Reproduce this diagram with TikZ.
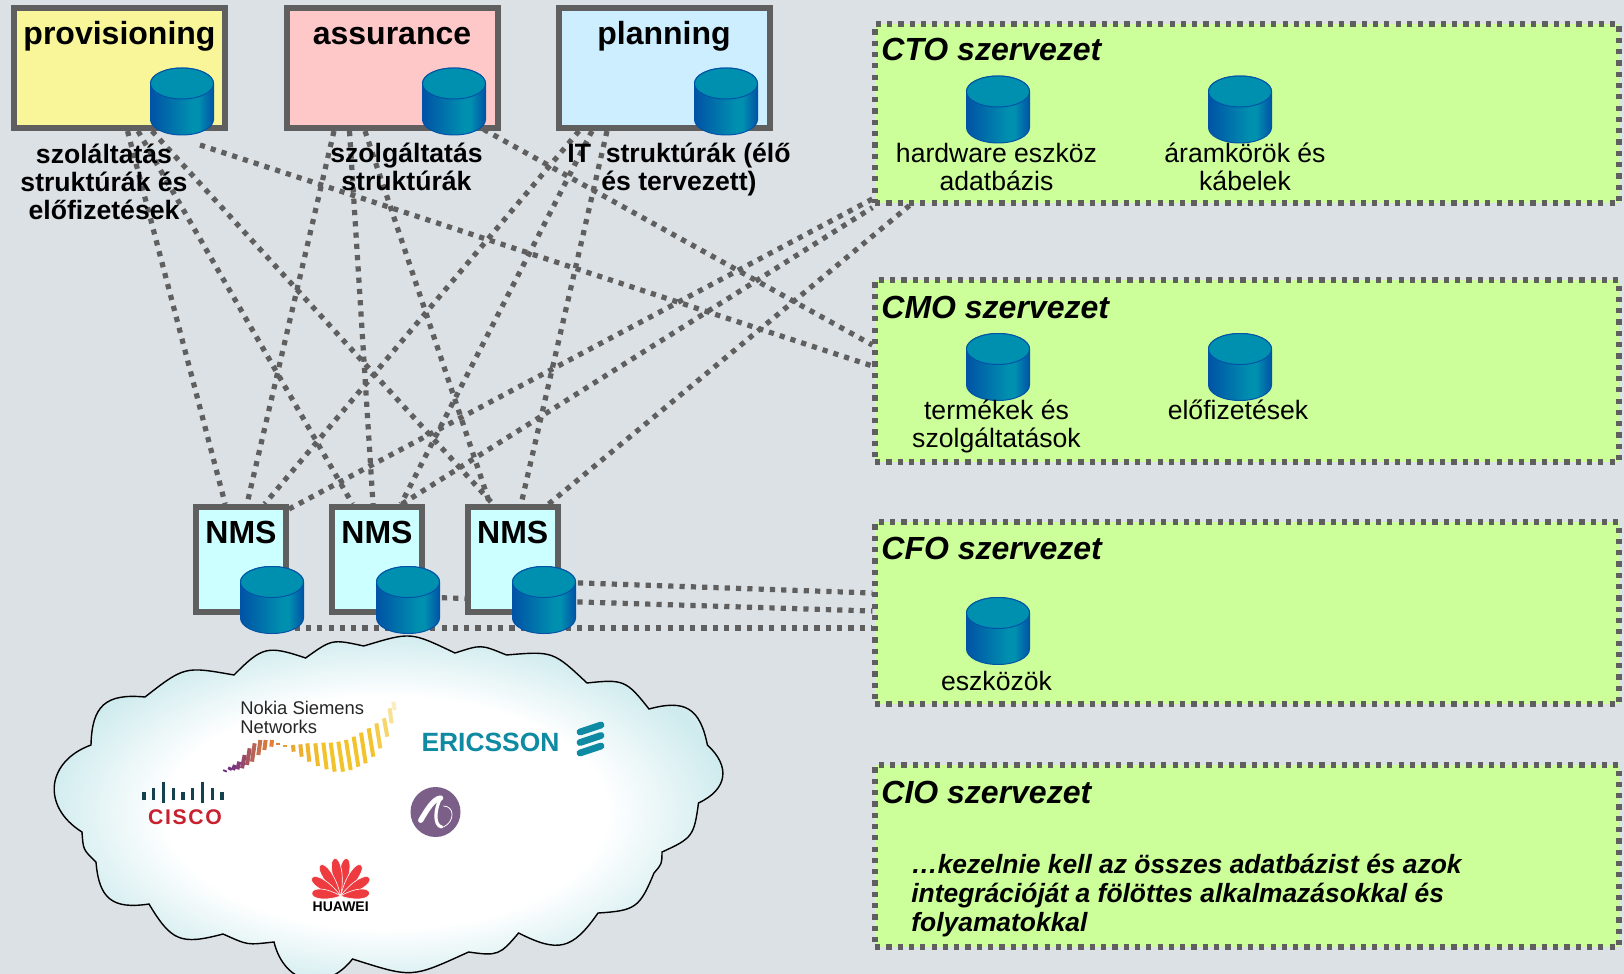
\documentclass[tikz,border=0pt]{standalone}
\usepackage{fontspec}
\setmainfont{Liberation Sans}
\usetikzlibrary{backgrounds}

\definecolor{bggray}{HTML}{DCE1E5}
\definecolor{framegray}{HTML}{5F5F5F}
\definecolor{provfill}{HTML}{F8F698}
\definecolor{assufill}{HTML}{FFC8C8}
\definecolor{planfill}{HTML}{CCEEFF}
\definecolor{nmsfill}{HTML}{CCFFFF}
\definecolor{orgfill}{HTML}{CCFF99}
\definecolor{dbtop}{HTML}{0090AF}
\definecolor{dbedge}{HTML}{0053A6}
\definecolor{cloudrim}{HTML}{CFEBEE}
\definecolor{ericteal}{HTML}{0E8AA2}
\definecolor{ciscobar}{HTML}{14414E}
\definecolor{ciscored}{HTML}{C8202F}
\definecolor{alupurple}{HTML}{7B5F88}
\definecolor{huaweired}{HTML}{EE3B3F}
\definecolor{nokiapurple}{HTML}{6E2C86}
\definecolor{nokiaorange}{HTML}{E0803A}
\definecolor{nokiayellow}{HTML}{F2C32A}

\pgfdeclarehorizontalshading{dbbody}{100bp}{color(0bp)=(dbedge); color(25bp)=(dbedge); color(58bp)=(dbtop); color(63bp)=(dbtop); color(75bp)=(dbedge); color(100bp)=(dbedge)}
\pgfdeclareradialshading{cloudglow}{\pgfpointorigin}{color(0bp)=(white); color(16bp)=(white); color(25bp)=(cloudrim); color(50bp)=(cloudrim)}

\begin{document}
\begin{tikzpicture}[
        x=0.5pt,
        y=-0.5pt,
        sysbox/.style={
            draw=framegray,
            line width=3pt,
            rectangle,
            inner sep=0pt,
            minimum width=105.5pt,
            minimum height=60pt
        },
        nmsbox/.style={
            sysbox,
            fill=nmsfill,
            minimum width=45pt,
            minimum height=52.5pt
        },
        orgbox/.style={
            draw=framegray,
            fill=orgfill,
            rectangle,
            inner sep=0pt,
            minimum width=372pt,
            minimum height=91pt,
            line width=2.6pt,
            dash pattern=on 2.6pt off 3.05pt
        },
        link/.style={
            draw=framegray,
            line width=2.6pt,
            dash pattern=on 2.6pt off 3.05pt
        },
        boxtitle/.style={
            anchor=base,
            inner sep=0pt,
            font=\fontsize{16}{18}\selectfont\bfseries
        },
        orgtitle/.style={
            anchor=west,
            inner sep=0pt,
            font=\fontsize{16}{18}\selectfont\bfseries\itshape
        },
        boldnote/.style={
            align=center,
            inner sep=0pt,
            font=\fontsize{13.3}{14}\selectfont\bfseries
        },
        plainnote/.style={
            align=center,
            inner sep=0pt,
            font=\fontsize{13.3}{14}\selectfont
        },
        dbcyl/.pic={
            \path[shading=dbbody,draw=dbedge,line width=0.5pt] (-31.5,-18) -- (-31.5,18)
                arc[start angle=180,end angle=0,x radius=31.5,y radius=15.5] -- (31.5,-18)
                arc[start angle=0,end angle=-180,x radius=31.5,y radius=15.5] -- cycle;
            \draw[fill=dbtop,draw=dbedge,line width=0.5pt] (0,-18) ellipse (31.5 and 15.5);
            \coordinate (-c) at (0,0);
        }
    ]
        \useasboundingbox (0,0) rectangle (1624,974);

        % System boxes
        \node[sysbox,fill=provfill] (prov) at (119.5,68) {};
        \node[sysbox,fill=assufill] (assu) at (392,68) {};
        \node[sysbox,fill=planfill] (plan) at (664,68) {};
        \node[boxtitle] (provtitle) at (119.5,45) {provisioning};
        \node[boxtitle] (assutitle) at (392,45) {assurance};
        \node[boxtitle] (plantitle) at (664,45) {planning};
        \pic (provdb) at (182,101.5) {dbcyl};
        \pic (assudb) at (454,101.5) {dbcyl};
        \pic (plandb) at (726,101.5) {dbcyl};

        % NMS boxes
        \node[nmsbox] (nmsa) at (241,559.5) {};
        \node[nmsbox] (nmsb) at (377,559.5) {};
        \node[nmsbox] (nmsc) at (512.7,559.5) {};
        \node[boxtitle] (nmsatitle) at (241,543) {NMS};
        \node[boxtitle] (nmsbtitle) at (377,543) {NMS};
        \node[boxtitle] (nmsctitle) at (512.7,543) {NMS};
        \pic (nmsadb) at (272,600) {dbcyl};
        \pic (nmsbdb) at (408,600) {dbcyl};
        \pic (nmscdb) at (544,600) {dbcyl};

        % Organisation boxes
        \node[orgbox,minimum height=89.5pt] (cto) at (1247,113.5) {};
        \node[orgbox] (cmo) at (1247,371) {};
        \node[orgbox] (cfo) at (1247,613) {};
        \node[orgbox] (cio) at (1247,856) {};
        \node[orgtitle] (ctotitle) at (881,49) {CTO szervezet};
        \node[orgtitle] (cmotitle) at (881,307.5) {CMO szervezet};
        \node[orgtitle] (cfotitle) at (881,548) {CFO szervezet};
        \node[orgtitle] (ciotitle) at (881,792) {CIO szervezet};
        \pic (ctodba) at (998,109.5) {dbcyl};
        \pic (ctodbb) at (1240,109.5) {dbcyl};
        \pic (cmodba) at (998,367) {dbcyl};
        \pic (cmodbb) at (1240,367) {dbcyl};
        \pic (cfodba) at (998,631) {dbcyl};

        % Dotted links behind everything
        \begin{scope}[on background layer]
            \fill[bggray] (0,0) rectangle (1624,974);
            \draw[link] ([xshift=4pt]prov.south) -- ([xshift=-7.9pt]nmsa.north);
            \draw[link] ([xshift=9.25pt]prov.south) -- ([xshift=-12.25pt]nmsb.north);
            \draw[link] ([xshift=16.25pt]prov.south) -- ([xshift=-9.9pt]nmsc.north);
            \draw[link] ([xshift=-29pt]assu.south) -- ([xshift=3pt]nmsa.north);
            \draw[link] ([xshift=-21.25pt]assu.south) -- ([xshift=-2pt]nmsb.north);
            \draw[link] ([xshift=-13.5pt]assu.south) -- ([xshift=-11.4pt]nmsc.north);
            \draw[link] ([xshift=-42.5pt]plan.south) -- ([xshift=11.8pt]nmsa.north);
            \draw[link] ([xshift=-36pt]plan.south) -- ([xshift=12pt]nmsb.north);
            \draw[link] ([xshift=-28.5pt]plan.south) -- ([xshift=4.2pt]nmsc.north);
            \draw[link] ([xshift=9pt,yshift=-21.75pt]provdb-c) -- ([yshift=2.5pt]cmo.west);
            \draw[link] ([yshift=-5.75pt]assudb-c) -- ([yshift=13pt]cmo.west);
            \draw[link] ([yshift=-2.5pt]nmsa.north east) -- ([yshift=-42.75pt]cto.west);
            \draw[link] ([xshift=12.5pt]nmsb.north) -- ([yshift=-1pt]cto.south west);
            \draw[link] ([xshift=18pt]nmsc.north) -- ([xshift=18.5pt]cto.south west);
            \draw[link] ([yshift=9.15pt]nmscdb-c) -- ([yshift=10pt]cfo.west);
            \draw[link] ([yshift=1.65pt]nmsbdb-c) -- ([yshift=1pt]cfo.west);
            \draw[link] ([yshift=-14pt]nmsadb-c) -- ([yshift=-7.5pt]cfo.west);
        \end{scope}

        % Labels under the boxes
        \node[boldnote] (provnote) at (104,181.5) {szoláltatás\\struktúrák és\\előfizetések};
        \node[boldnote] (assunote) at (406.5,167) {szolgáltatás\\struktúrák};
        \node[boldnote] (plannote) at (679,169.5) {IT\ \ struktúrák (élő\\és tervezett)};
        \node[plainnote] (ctonotea) at (996.5,167) {hardware eszköz\\adatbázis};
        \node[plainnote] (ctonoteb) at (1245,167) {áramkörök és\\kábelek};
        \node[plainnote] (cmonotea) at (996.5,426.5) {termékek és\\szolgáltatások};
        \node[plainnote] (cmonoteb) at (1238,410) {előfizetések};
        \node[plainnote] (cfonote) at (996.5,681) {eszközök};
        \node[align=left,anchor=west,inner sep=0pt,font=\fontsize{13.2}{14.5}\selectfont\bfseries\itshape] (cionote) at (911,896)
            {…kezelnie kell az összes adatbázist és azok\\integrációját a fölöttes alkalmazásokkal és\\folyamatokkal};

        % Cloud
        \draw[black,line width=0.7pt,shading=cloudglow,looseness=1.4]
            (363.7,646) to[bend left=21] (455,653) to[bend left=20] (506.5,655)
            to[bend left=24] (587,683) to[bend left=29] (649,709) to[bend left=47] (707.4,745)
            to[bend left=56] (698.5,803) to[bend left=29] (662,852) to[bend left=20] (654,873)
            to[bend left=32] (598,913) to[bend left=41] (518.6,933) to[bend left=29] (468.6,952)
            to[bend left=21] (352.5,959) to[bend left=64] (274,942) to[bend left=15] (223,934)
            to[bend left=37] (149,904) to[bend left=47] (96,862) to[bend left=21] (82,832)
            to[bend left=64] (91,745) to[bend left=47] (145,697) to[bend left=24] (234,675)
            to[bend left=32] (305.6,658) to[bend left=24] (363.7,646) -- cycle;

        % Cisco
        \foreach \u/\t/\b in {42/97/120,71/85/120,100/65/130,130/85/120,159/97/120,188/85/120,217/65/130,247/85/120,276/97/120} {
            \draw[ciscobar,line width=1.7pt] (130+\u/3,760+\t/3) -- (130+\u/3,760+\b/3);
        }
        \node[inner sep=0pt,text=ciscored,font=\fontsize{10.6}{12}\selectfont\bfseries\addfontfeature{LetterSpace=8}] (cisco) at (185,817) {CISCO};

        % Nokia Siemens
        \node[anchor=west,align=left,inner sep=0pt,text=black!85,font=\fontsize{9.2}{9.5}\selectfont] (nokia) at (240,717.5) {Nokia Siemens\\Networks};
        \begin{scope}[shift={(220,690)},scale=1/3]
            \foreach \u/\t/\b/\l/\c in {15/240/245/1/nokiapurple,30/232/240/2/nokiapurple,42/225/240/3/nokiaorange!10!nokiapurple,55/215/238/3/nokiaorange!20!nokiapurple,70/195/235/4/nokiaorange!35!nokiapurple,85/175/225/4/nokiaorange!50!nokiapurple,100/160/215/4/nokiaorange!65!nokiapurple,118/150/195/3/nokiaorange!80!nokiapurple,135/150/180/2/nokiaorange!90!nokiapurple,155/150/170/1/nokiaorange,175/158/165/0/nokiaorange,195/165/170/0/nokiayellow!40!nokiaorange,220/165/185/-1/nokiayellow!60!nokiaorange,243/163/200/-2/nokiayellow!70!nokiaorange,265/160/215/-3/nokiayellow!80!nokiaorange,290/160/228/-4/nokiayellow!90!nokiaorange,315/158/238/-5/nokiayellow,338/158/245/-6/nokiayellow,362/155/245/-7/nokiayellow,385/150/240/-7/nokiayellow,408/140/230/-7/nokiayellow,430/128/220/-7/nokiayellow,453/115/200/-7/nokiayellow,475/100/175/-6/nokiayellow!85!white,497/85/140/-5/nokiayellow!70!white,512/55/100/-3/nokiayellow!50!white,522/35/60/-2/nokiayellow!30!white} {
                \draw[\c,line width=2pt] (\u+\l,\t) -- (\u-\l,\b);
            }
        \end{scope}

        % Ericsson
        \node[inner sep=0pt,text=ericteal,font=\fontsize{13.2}{15}\selectfont\bfseries] (ericsson) at (490.5,742.5) {ERICSSON};
        \foreach \k in {0,10.5,21} {
            \draw[ericteal,line width=3.4pt,line cap=round] (580,732+\k) -- (601,725+\k);
        }

        % Alcatel
        \node[circle,fill=alupurple,inner sep=0pt,minimum size=25pt] (alcatel) at (435.5,812) {};
        \begin{scope}[shift={(400,782)},scale=1/3]
            \draw[white,line width=2.6pt,line cap=round] (62,115) .. controls (80,85) and (100,50) .. (122,48);
            \draw[white,line width=1.6pt,line cap=round] (122,48) .. controls (105,80) and (100,130) .. (125,135);
            \draw[white,line width=0.4pt] (130,72) .. controls (165,72) and (165,120) .. (130,135);
        \end{scope}

        % Huawei
        \foreach \a/\l in {-9/38,9/38,-33/37,33/37,-58/34,58/34,-84/29,84/29} {
            \fill[huaweired,draw=white,line width=0.3pt,shift={(340.7,896)},rotate=\a] (0,0) .. controls (-7,-0.5*\l) and (-6,-\l) .. (0,-\l) .. controls (6,-\l) and (7,-0.5*\l) .. (0,0) -- cycle;
        }
        \node[inner sep=0pt,font=\fontsize{7}{8}\selectfont\bfseries] (huawei) at (340.7,907) {HUAWEI};

    \end{tikzpicture}
\end{document}
